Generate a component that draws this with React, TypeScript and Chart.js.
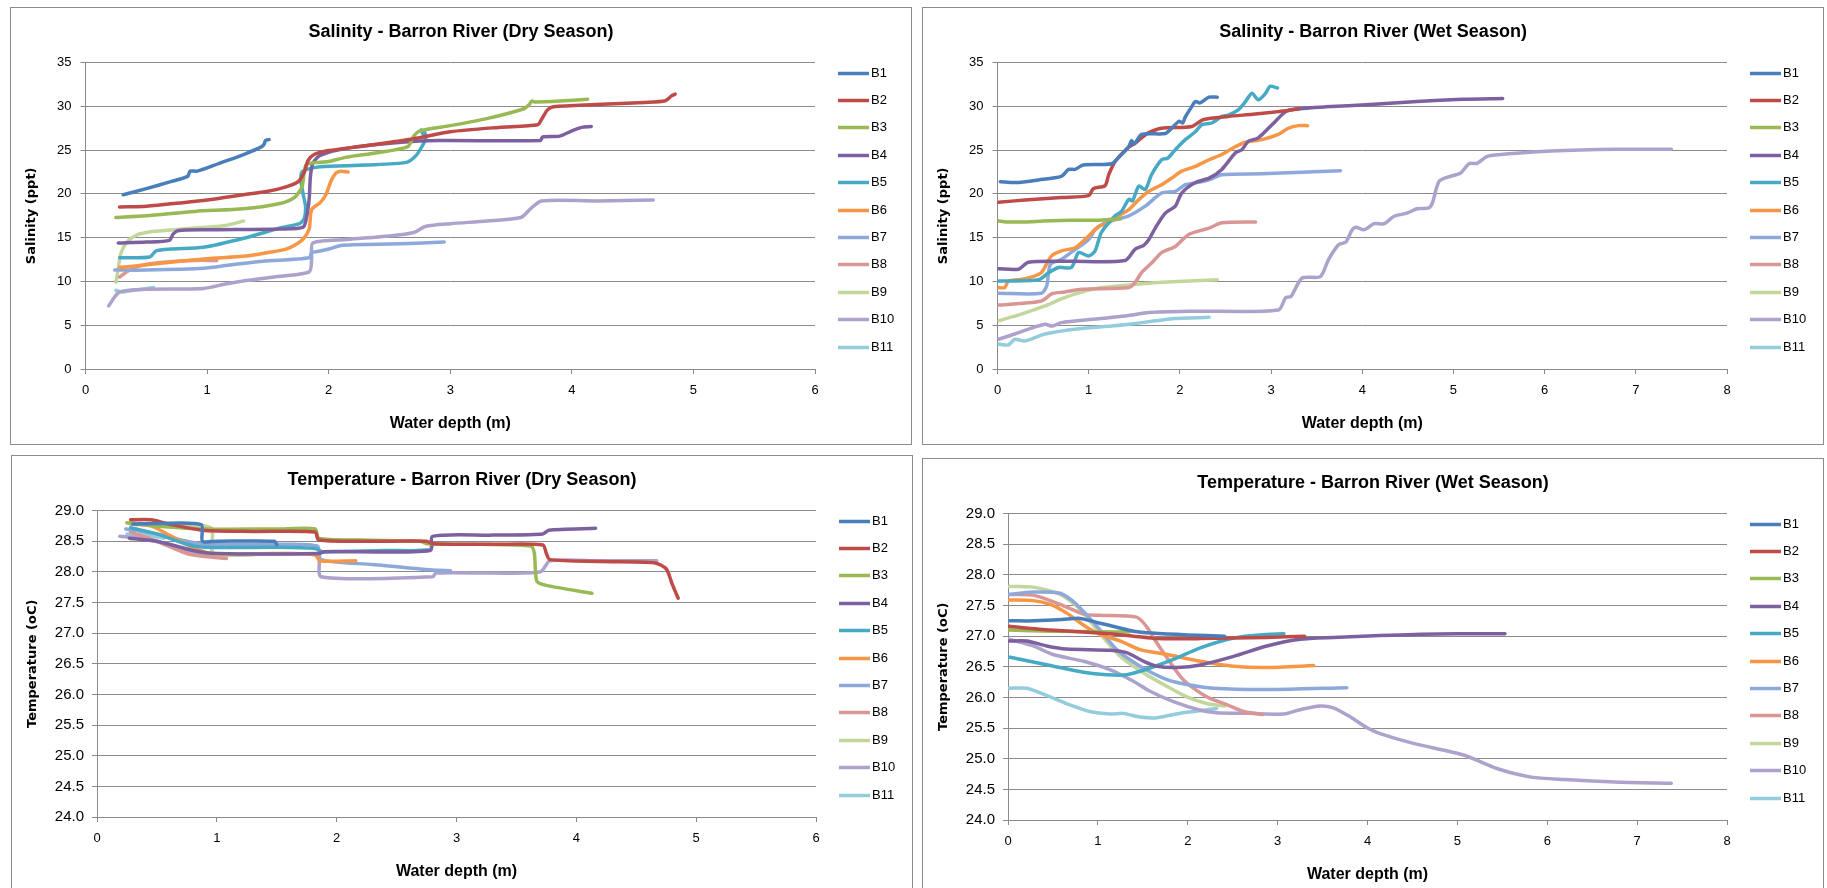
import React, { useEffect, useRef } from 'react';
import { Chart, registerables } from 'chart.js';

Chart.register(...registerables);

const FONT = '"Liberation Sans", Arial, sans-serif';
const AXIS_TITLE_FONT = '"DejaVu Sans", Verdana, sans-serif';
const GRID = '#8a8a8a';

const seriesNames = ['B1', 'B2', 'B3', 'B4', 'B5', 'B6', 'B7', 'B8', 'B9', 'B10', 'B11'];
const seriesColors = ['#4A7EBB', '#BE4B48', '#98B954', '#7D60A0', '#46AAC5', '#F79646', '#8DA9DB', '#D99694', '#C3D69B', '#ADA2CC', '#93CDDD'];

const salinityTicks = [0, 5, 10, 15, 20, 25, 30, 35];
const temperatureTicks = [24, 24.5, 25, 25.5, 26, 26.5, 27, 27.5, 28, 28.5, 29];
const dryDepthTicks = [0, 1, 2, 3, 4, 5, 6];
const wetDepthTicks = [0, 1, 2, 3, 4, 5, 6, 7, 8];

// ---- Salinity, dry season: [depth (m), salinity (ppt)]
const salDryB1 = [[0.31, 19.9], [0.5, 20.6], [0.7, 21.4], [0.84, 22.0], [0.86, 22.6], [0.92, 22.6], [1.1, 23.5], [1.3, 24.5], [1.45, 25.4], [1.47, 25.7], [1.48, 26.1], [1.51, 26.2]];
const salDryB2 = [[0.28, 18.5], [0.5, 18.6], [0.8, 19.0], [1.0, 19.3], [1.3, 19.9], [1.5, 20.3], [1.65, 20.8], [1.75, 21.4], [1.8, 22.5], [1.83, 23.8], [1.88, 24.5], [2.0, 24.95], [2.3, 25.5], [2.7, 26.3], [3.0, 27.1], [3.4, 27.6], [3.72, 27.9], [3.75, 28.5], [3.8, 29.6], [3.85, 29.95], [4.2, 30.2], [4.6, 30.45], [4.77, 30.65], [4.82, 31.2], [4.85, 31.4]];
const salDryB3 = [[0.25, 17.3], [0.5, 17.5], [0.9, 18.0], [1.3, 18.3], [1.6, 18.9], [1.72, 19.6], [1.78, 20.8], [1.8, 22.6], [1.82, 23.4], [2.0, 23.7], [2.15, 24.2], [2.4, 24.7], [2.65, 25.4], [2.7, 26.6], [2.75, 27.2], [3.0, 27.8], [3.3, 28.6], [3.6, 29.7], [3.65, 30.2], [3.67, 30.6], [3.7, 30.5], [3.9, 30.6], [4.13, 30.8]];
const salDryB4 = [[0.27, 14.4], [0.5, 14.5], [0.69, 14.7], [0.72, 15.4], [0.76, 15.8], [1.0, 15.9], [1.6, 16.0], [1.79, 16.2], [1.82, 17.5], [1.84, 19.5], [1.85, 22.0], [1.87, 23.5], [1.93, 24.4], [2.15, 25.2], [2.6, 25.9], [2.9, 26.1], [3.74, 26.1], [3.76, 26.5], [3.9, 26.6], [4.0, 27.2], [4.08, 27.6], [4.16, 27.7]];
const salDryB5 = [[0.28, 12.7], [0.53, 12.8], [0.58, 13.5], [0.7, 13.7], [0.97, 13.9], [1.32, 15.0], [1.6, 16.1], [1.76, 16.6], [1.8, 17.2], [1.81, 18.5], [1.79, 20.0], [1.77, 21.7], [1.78, 22.5], [1.82, 22.8], [1.93, 23.1], [2.3, 23.3], [2.64, 23.6], [2.72, 24.4], [2.77, 25.5], [2.8, 26.3], [2.79, 27.0], [2.76, 27.3], [2.8, 26.2]];
const salDryB6 = [[0.28, 11.6], [0.5, 11.9], [0.78, 12.3], [1.0, 12.6], [1.32, 12.9], [1.5, 13.3], [1.65, 13.7], [1.75, 14.4], [1.8, 15.0], [1.84, 16.0], [1.86, 18.2], [1.93, 19.0], [1.98, 20.0], [2.02, 21.5], [2.06, 22.4], [2.1, 22.6], [2.16, 22.5]];
const salDryB7 = [[0.24, 11.3], [0.5, 11.3], [0.97, 11.5], [1.2, 11.9], [1.46, 12.3], [1.84, 12.7], [1.86, 13.3], [1.9, 13.4], [2.0, 13.7], [2.1, 14.1], [2.2, 14.2], [2.6, 14.3], [2.95, 14.5]];
const salDryB8 = [[0.28, 10.5], [0.35, 11.2], [0.45, 11.8], [0.64, 12.2], [0.9, 12.4], [1.08, 12.4]];
const salDryB9 = [[0.25, 9.9], [0.27, 11.5], [0.29, 13.2], [0.34, 14.5], [0.42, 15.3], [0.55, 15.7], [0.8, 16.0], [1.0, 16.2], [1.15, 16.4], [1.3, 16.9]];
const salDryB10 = [[0.19, 7.2], [0.28, 8.8], [0.5, 9.1], [0.97, 9.2], [1.15, 9.7], [1.32, 10.1], [1.6, 10.6], [1.84, 11.1], [1.86, 12.5], [1.87, 14.4], [2.15, 14.8], [2.5, 15.2], [2.7, 15.6], [2.8, 16.3], [3.0, 16.6], [3.3, 16.9], [3.58, 17.3], [3.66, 18.3], [3.75, 19.2], [4.2, 19.2], [4.67, 19.3]];
const salDryB11 = [[0.25, 9.0], [0.3, 8.8], [0.4, 9.0], [0.56, 9.3]];

// ---- Salinity, wet season
const salWetB1 = [[0.03, 21.4], [0.2, 21.3], [0.45, 21.6], [0.7, 22.0], [0.78, 22.8], [0.85, 22.8], [0.94, 23.3], [1.25, 23.45], [1.35, 24.4], [1.44, 25.4], [1.47, 26.1], [1.5, 25.7], [1.58, 26.8], [1.84, 26.9], [1.92, 27.6], [1.99, 28.3], [2.03, 28.1], [2.06, 28.8], [2.12, 29.8], [2.17, 30.55], [2.22, 30.4], [2.32, 31.05], [2.41, 31.05]];
const salWetB2 = [[0.01, 19.05], [0.3, 19.3], [0.7, 19.6], [1.0, 19.8], [1.05, 20.6], [1.18, 20.95], [1.22, 22.2], [1.29, 23.7], [1.44, 25.35], [1.51, 25.8], [1.58, 26.4], [1.66, 27.0], [1.8, 27.5], [2.13, 27.7], [2.26, 28.5], [2.53, 28.85], [2.8, 29.1], [3.08, 29.4], [3.3, 29.7]];
const salWetB3 = [[0.01, 16.9], [0.1, 16.8], [0.3, 16.8], [0.5, 16.9], [0.8, 17.0], [1.1, 17.0], [1.35, 17.15]];
const salWetB4 = [[0.01, 11.45], [0.23, 11.4], [0.34, 12.2], [0.8, 12.3], [1.4, 12.4], [1.51, 13.7], [1.6, 14.1], [1.66, 14.8], [1.73, 16.1], [1.84, 17.8], [1.95, 18.6], [2.02, 20.1], [2.17, 21.3], [2.32, 21.8], [2.46, 22.8], [2.61, 24.7], [2.68, 25.05], [2.75, 26.0], [2.86, 26.4], [3.01, 27.9], [3.16, 29.4], [3.27, 29.7], [3.6, 29.95], [4.09, 30.2], [4.6, 30.55], [5.1, 30.8], [5.54, 30.9]];
const salWetB5 = [[0.01, 10.05], [0.45, 10.2], [0.56, 11.0], [0.67, 11.6], [0.81, 11.6], [0.89, 13.3], [1.0, 12.9], [1.07, 13.5], [1.14, 15.6], [1.29, 17.5], [1.36, 18.0], [1.44, 19.4], [1.48, 19.2], [1.55, 20.9], [1.62, 20.5], [1.69, 22.2], [1.8, 23.9], [1.87, 24.1], [1.95, 25.05], [2.06, 26.2], [2.17, 27.1], [2.24, 27.9], [2.35, 28.1], [2.46, 28.85], [2.53, 29.0], [2.64, 29.6], [2.72, 30.55], [2.79, 31.5], [2.86, 30.75], [2.94, 31.5], [2.99, 32.3], [3.07, 32.1]];
const salWetB6 = [[0.01, 9.3], [0.08, 9.3], [0.12, 10.05], [0.27, 10.25], [0.34, 10.4], [0.48, 11.0], [0.59, 12.9], [0.7, 13.5], [0.85, 13.85], [1.0, 15.2], [1.11, 16.3], [1.22, 16.7], [1.33, 17.5], [1.44, 18.2], [1.55, 19.35], [1.66, 20.3], [1.8, 21.05], [1.91, 21.8], [2.02, 22.6], [2.17, 23.15], [2.32, 23.9], [2.46, 24.5], [2.61, 25.4], [2.72, 25.9], [2.9, 26.2], [3.08, 26.8], [3.19, 27.5], [3.3, 27.8], [3.4, 27.8]];
const salWetB7 = [[0.01, 8.65], [0.48, 8.65], [0.54, 9.5], [0.58, 11.95], [0.7, 12.5], [0.85, 13.65], [1.0, 14.8], [1.07, 15.9], [1.18, 16.7], [1.44, 17.5], [1.62, 18.6], [1.8, 20.1], [1.95, 20.3], [2.06, 21.05], [2.17, 21.25], [2.32, 21.6], [2.46, 22.2], [2.9, 22.3], [3.76, 22.66]];
const salWetB8 = [[0.01, 7.3], [0.38, 7.6], [0.49, 7.8], [0.6, 8.6], [0.74, 8.8], [0.92, 9.1], [1.44, 9.3], [1.51, 9.9], [1.58, 11.0], [1.69, 12.1], [1.8, 13.3], [1.95, 14.0], [2.1, 15.4], [2.32, 16.1], [2.46, 16.7], [2.83, 16.8]];
const salWetB9 = [[0.01, 5.5], [0.27, 6.3], [0.52, 7.2], [0.7, 8.0], [0.89, 8.7], [1.14, 9.3], [1.44, 9.6], [1.8, 9.9], [2.41, 10.2]];
const salWetB10 = [[0.01, 3.4], [0.19, 4.0], [0.34, 4.55], [0.52, 5.1], [0.6, 4.9], [0.7, 5.3], [1.07, 5.7], [1.44, 6.1], [1.66, 6.45], [2.17, 6.6], [3.08, 6.75], [3.16, 8.15], [3.22, 8.3], [3.34, 10.4], [3.54, 10.55], [3.63, 12.5], [3.74, 14.2], [3.82, 14.5], [3.89, 15.9], [3.93, 16.2], [4.02, 15.9], [4.13, 16.6], [4.24, 16.6], [4.35, 17.45], [4.49, 17.8], [4.6, 18.3], [4.73, 18.4], [4.77, 19.0], [4.84, 21.4], [4.93, 21.9], [5.08, 22.4], [5.17, 23.45], [5.26, 23.5], [5.37, 24.3], [5.52, 24.5], [6.07, 24.9], [6.8, 25.1], [7.39, 25.1]];
const salWetB11 = [[0.01, 2.85], [0.12, 2.75], [0.19, 3.4], [0.3, 3.2], [0.52, 4.0], [0.89, 4.6], [1.25, 4.9], [1.44, 5.1], [1.73, 5.5], [1.91, 5.75], [2.32, 5.9]];

// ---- Temperature, dry season: [depth (m), temperature (oC)]
const tmpDryB1 = [[0.3, 28.78], [0.5, 28.79], [0.87, 28.77], [0.88, 28.5], [1.0, 28.5], [1.48, 28.5], [1.5, 28.45]];
const tmpDryB2 = [[0.28, 28.85], [0.45, 28.85], [0.6, 28.78], [0.88, 28.68], [1.3, 28.66], [1.82, 28.65], [1.85, 28.52], [2.3, 28.5], [2.75, 28.5], [2.8, 28.46], [3.3, 28.45], [3.72, 28.44], [3.75, 28.3], [3.78, 28.2], [4.2, 28.17], [4.65, 28.15], [4.75, 28.05], [4.8, 27.8], [4.85, 27.57]];
const tmpDryB3 = [[0.25, 28.8], [0.5, 28.75], [0.9, 28.7], [1.5, 28.7], [1.82, 28.7], [1.85, 28.55], [2.2, 28.52], [2.7, 28.5], [2.75, 28.46], [3.2, 28.45], [3.62, 28.42], [3.65, 28.3], [3.67, 27.85], [3.75, 27.78], [4.13, 27.65]];
const tmpDryB4 = [[0.27, 28.55], [0.5, 28.5], [0.8, 28.35], [1.0, 28.3], [1.85, 28.3], [1.9, 28.33], [2.78, 28.35], [2.8, 28.58], [3.3, 28.6], [3.72, 28.62], [3.77, 28.68], [4.16, 28.71]];
const tmpDryB5 = [[0.28, 28.72], [0.5, 28.62], [0.75, 28.45], [0.9, 28.4], [1.5, 28.4], [1.82, 28.38], [1.88, 28.33], [2.4, 28.35], [2.78, 28.36], [2.8, 28.48]];
const tmpDryB6 = [[0.28, 28.78], [0.45, 28.75], [0.6, 28.6], [0.8, 28.4], [0.95, 28.3], [1.5, 28.3], [1.82, 28.28], [1.86, 28.18], [2.16, 28.18]];
const tmpDryB7 = [[0.24, 28.7], [0.5, 28.62], [0.75, 28.5], [0.9, 28.45], [1.5, 28.45], [1.84, 28.42], [1.87, 28.2], [2.3, 28.12], [2.8, 28.03], [2.95, 28.02]];
const tmpDryB8 = [[0.28, 28.65], [0.5, 28.5], [0.75, 28.3], [0.9, 28.25], [1.08, 28.22]];
const tmpDryB9 = [[0.25, 28.8], [0.5, 28.76], [0.95, 28.72], [0.97, 28.3], [1.3, 28.28]];
const tmpDryB10 = [[0.19, 28.58], [0.35, 28.55], [0.6, 28.45], [0.85, 28.3], [1.2, 28.28], [1.84, 28.27], [1.87, 27.92], [2.8, 27.92], [2.83, 27.98], [3.3, 27.98], [3.7, 28.0], [3.78, 28.18], [4.2, 28.18], [4.67, 28.18]];
const tmpDryB11 = [[0.25, 28.62], [0.4, 28.6], [0.56, 28.55]];

// ---- Temperature, wet season
const tmpWetB1 = [[0.02, 27.25], [0.3, 27.25], [0.6, 27.27], [0.8, 27.29], [1.0, 27.22], [1.2, 27.15], [1.4, 27.08], [1.6, 27.05], [2.0, 27.02], [2.41, 27.0]];
const tmpWetB2 = [[0.01, 27.16], [0.47, 27.1], [1.02, 27.05], [1.4, 27.0], [1.66, 26.96], [2.14, 26.96], [2.88, 26.98], [3.3, 27.0]];
const tmpWetB3 = [[0.01, 27.1], [0.5, 27.08], [1.0, 27.07], [1.35, 27.07]];
const tmpWetB4 = [[0.01, 26.92], [0.21, 26.92], [0.43, 26.84], [0.65, 26.79], [1.14, 26.77], [1.32, 26.73], [1.51, 26.59], [1.66, 26.51], [1.88, 26.49], [2.14, 26.53], [2.51, 26.67], [2.88, 26.84], [3.25, 26.95], [3.62, 26.98], [4.14, 27.01], [4.6, 27.03], [5.0, 27.04], [5.53, 27.04]];
const tmpWetB5 = [[0.01, 26.66], [0.47, 26.52], [0.84, 26.41], [1.1, 26.37], [1.32, 26.37], [1.58, 26.48], [1.84, 26.62], [2.14, 26.81], [2.51, 26.97], [2.8, 27.02], [3.07, 27.04]];
const tmpWetB6 = [[0.01, 27.59], [0.28, 27.58], [0.47, 27.52], [0.65, 27.38], [0.88, 27.14], [1.02, 27.03], [1.25, 26.92], [1.47, 26.78], [1.77, 26.7], [2.14, 26.59], [2.51, 26.51], [2.88, 26.49], [3.4, 26.52]];
const tmpWetB7 = [[0.01, 27.68], [0.28, 27.72], [0.58, 27.7], [0.76, 27.52], [1.02, 27.11], [1.21, 26.78], [1.47, 26.51], [1.77, 26.29], [1.99, 26.21], [2.29, 26.15], [2.88, 26.13], [3.77, 26.16]];
const tmpWetB8 = [[0.01, 27.68], [0.28, 27.67], [0.58, 27.52], [0.84, 27.36], [1.02, 27.34], [1.43, 27.31], [1.54, 27.16], [1.63, 26.95], [1.73, 26.73], [1.95, 26.29], [2.21, 26.01], [2.44, 25.88], [2.62, 25.77], [2.83, 25.72]];
const tmpWetB9 = [[0.01, 27.81], [0.28, 27.8], [0.58, 27.68], [0.8, 27.44], [1.02, 27.05], [1.25, 26.67], [1.51, 26.4], [1.77, 26.18], [1.99, 26.01], [2.21, 25.9], [2.41, 25.86]];
const tmpWetB10 = [[0.01, 26.95], [0.28, 26.84], [0.5, 26.7], [0.84, 26.59], [1.14, 26.45], [1.4, 26.26], [1.58, 26.1], [1.84, 25.93], [2.14, 25.79], [2.32, 25.75], [2.69, 25.74], [3.07, 25.73], [3.25, 25.8], [3.47, 25.86], [3.62, 25.83], [3.81, 25.68], [4.0, 25.5], [4.14, 25.41], [4.51, 25.25], [5.07, 25.06], [5.44, 24.84], [5.82, 24.7], [6.19, 24.66], [6.75, 24.62], [7.38, 24.6]];
const tmpWetB11 = [[0.01, 26.15], [0.21, 26.15], [0.47, 26.01], [0.65, 25.9], [0.91, 25.77], [1.14, 25.73], [1.28, 25.74], [1.47, 25.68], [1.66, 25.67], [1.95, 25.75], [2.32, 25.82]];

const salDry = [salDryB1, salDryB2, salDryB3, salDryB4, salDryB5, salDryB6, salDryB7, salDryB8, salDryB9, salDryB10, salDryB11];
const salWet = [salWetB1, salWetB2, salWetB3, salWetB4, salWetB5, salWetB6, salWetB7, salWetB8, salWetB9, salWetB10, salWetB11];
const tmpDry = [tmpDryB1, tmpDryB2, tmpDryB3, tmpDryB4, tmpDryB5, tmpDryB6, tmpDryB7, tmpDryB8, tmpDryB9, tmpDryB10, tmpDryB11];
const tmpWet = [tmpWetB1, tmpWetB2, tmpWetB3, tmpWetB4, tmpWetB5, tmpWetB6, tmpWetB7, tmpWetB8, tmpWetB9, tmpWetB10, tmpWetB11];

const PANEL_W = 902;
const PANEL_H = 438;

interface PanelSpec {
  left: number;
  top: number;
  title: string;
  yTitle: string;
  series: number[][][];
  xTicks: number[];
  yTicks: number[];
  yDecimals: number;
  yAxisWidth: number;
  yTickPadding: number;
  yTickSize: number;
}

const panels: PanelSpec[] = [
  { left: 10, top: 7, title: 'Salinity - Barron River (Dry Season)', yTitle: 'Salinity (ppt)', series: salDry, xTicks: dryDepthTicks, yTicks: salinityTicks, yDecimals: 0, yAxisWidth: 75.5, yTickPadding: 9, yTickSize: 13 },
  { left: 922, top: 7, title: 'Salinity - Barron River (Wet Season)', yTitle: 'Salinity (ppt)', series: salWet, xTicks: wetDepthTicks, yTicks: salinityTicks, yDecimals: 0, yAxisWidth: 75.5, yTickPadding: 9, yTickSize: 13 },
  { left: 11, top: 455, title: 'Temperature - Barron River (Dry Season)', yTitle: 'Temperature (oC)', series: tmpDry, xTicks: dryDepthTicks, yTicks: temperatureTicks, yDecimals: 1, yAxisWidth: 86, yTickPadding: 8, yTickSize: 15 },
  { left: 922, top: 458, title: 'Temperature - Barron River (Wet Season)', yTitle: 'Temperature (oC)', series: tmpWet, xTicks: wetDepthTicks, yTicks: temperatureTicks, yDecimals: 1, yAxisWidth: 86, yTickPadding: 8, yTickSize: 15 },
];

const sideLegend = {
  id: 'sideLegend',
  afterDraw(chart: any) {
    const { ctx, chartArea } = chart;
    ctx.save();
    chart.data.datasets.forEach((ds: any, i: number) => {
      const y = Math.round(chartArea.top + 10 + i * 27.4) + 0.5;
      const x0 = chartArea.right + 23;
      ctx.strokeStyle = ds.borderColor;
      ctx.lineWidth = 3.5;
      ctx.lineCap = 'butt';
      ctx.beginPath();
      ctx.moveTo(x0, y);
      ctx.lineTo(x0 + 31, y);
      ctx.stroke();
      ctx.fillStyle = '#000';
      ctx.font = '13px ' + FONT;
      ctx.textBaseline = 'middle';
      ctx.textAlign = 'left';
      ctx.fillText(ds.label, x0 + 33, y);
    });
    ctx.restore();
  },
};

function ChartPanel({ spec }: { spec: PanelSpec }) {
  const ref = useRef<HTMLCanvasElement | null>(null);
  useEffect(() => {
    const canvas = ref.current;
    if (!canvas) return;
    const xT = spec.xTicks;
    const yT = spec.yTicks;
    const chart = new Chart(canvas, {
      type: 'scatter',
      data: {
        datasets: spec.series.map((pts, i) => ({
          label: seriesNames[i],
          data: pts.map(([x, y]) => ({ x, y })),
          showLine: true,
          borderColor: seriesColors[i],
          backgroundColor: seriesColors[i],
          borderWidth: 3.5,
          pointRadius: 0,
          pointHoverRadius: 0,
          tension: 0.25,
          fill: false,
          borderCapStyle: 'round',
          borderJoinStyle: 'round',
        })),
      },
      options: {
        responsive: false,
        animation: false,
        devicePixelRatio: 1,
        layout: { padding: { left: 0, right: 0, top: 0, bottom: 0 } },
        plugins: {
          legend: { display: false },
          tooltip: { enabled: false },
          title: {
            display: true,
            text: spec.title,
            color: '#000',
            font: { family: FONT, size: 18, weight: 'bold', lineHeight: 1.2 },
            padding: { top: 14, bottom: 20 },
          },
        },
        scales: {
          x: {
            type: 'linear',
            min: xT[0],
            max: xT[xT.length - 1],
            afterBuildTicks: (axis: any) => {
              axis.ticks = xT.map((v) => ({ value: v }));
            },
            afterFit: (s: any) => {
              s.height = 76;
            },
            grid: { drawOnChartArea: false, drawTicks: true, tickLength: 5, color: GRID },
            border: { color: GRID, width: 1 },
            ticks: {
              color: '#000',
              font: { family: FONT, size: 13 },
              padding: 9,
              maxRotation: 0,
              autoSkip: false,
              callback: (v: any) => String(v),
            },
            title: {
              display: true,
              text: 'Water depth (m)',
              color: '#000',
              font: { family: FONT, size: 16, weight: 'bold', lineHeight: 1.2 },
              padding: { top: 0, bottom: 12 },
            },
          },
          y: {
            type: 'linear',
            min: yT[0],
            max: yT[yT.length - 1],
            afterBuildTicks: (axis: any) => {
              axis.ticks = yT.map((v) => ({ value: v }));
            },
            afterFit: (s: any) => {
              s.width = spec.yAxisWidth;
            },
            grid: { drawOnChartArea: true, drawTicks: true, tickLength: 5, color: GRID },
            border: { color: GRID, width: 1 },
            ticks: {
              color: '#000',
              font: { family: FONT, size: spec.yTickSize },
              padding: spec.yTickPadding,
              autoSkip: false,
              callback: (v: any) => Number(v).toFixed(spec.yDecimals),
            },
            title: {
              display: true,
              text: spec.yTitle,
              color: '#000',
              font: { family: AXIS_TITLE_FONT, size: 13, weight: 'bold', lineHeight: 1.2 },
              padding: { top: 14, bottom: 0 },
            },
          },
          legendSpace: {
            type: 'linear',
            position: 'right',
            display: true,
            grid: { display: false, drawOnChartArea: false, drawTicks: false },
            border: { display: false },
            ticks: { display: false },
            afterFit: (s: any) => {
              s.width = 97;
            },
          },
        },
      },
      plugins: [sideLegend],
    } as any);
    return () => chart.destroy();
  }, [spec]);

  return (
    <>
      <canvas
        ref={ref}
        width={PANEL_W}
        height={PANEL_H}
        style={{ position: 'absolute', left: spec.left, top: spec.top, width: PANEL_W, height: PANEL_H, background: '#fff' }}
      />
      <div
        style={{
          position: 'absolute',
          left: spec.left,
          top: spec.top,
          width: PANEL_W,
          height: PANEL_H,
          boxSizing: 'border-box',
          border: '1px solid #8c8c8c',
          pointerEvents: 'none',
        }}
      />
    </>
  );
}

export default function App() {
  return (
    <div style={{ position: 'fixed', left: 0, top: 0, width: 1827, height: 888, overflow: 'hidden', background: '#fff' }}>
      {panels.map((p, i) => (
        <ChartPanel key={i} spec={p} />
      ))}
    </div>
  );
}
